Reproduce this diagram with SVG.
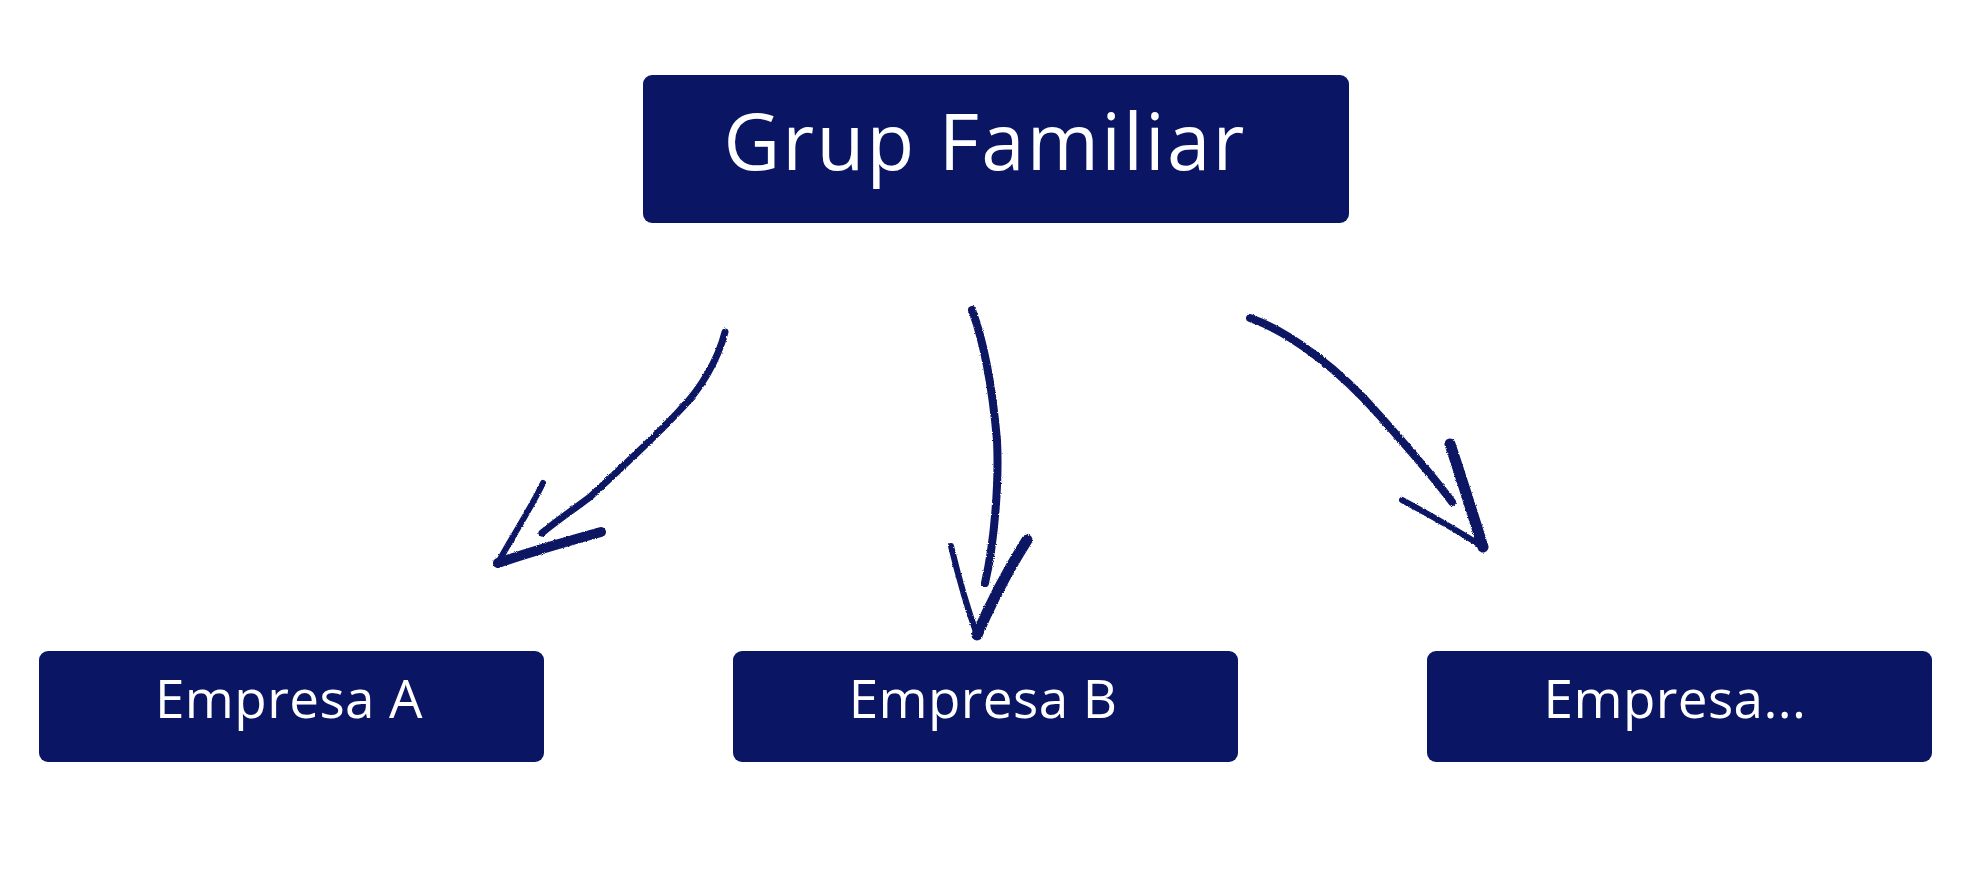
<svg xmlns="http://www.w3.org/2000/svg" width="1968" height="875" viewBox="0 0 1968 875">
  <defs>
    <style>
      .box { fill: #0a1664; }
      .lbl { fill: #ffffff; font-family: "Open Sans", "Noto Sans", "Liberation Sans", sans-serif; text-anchor: middle; }
      .big { font-size: 78px; letter-spacing: 2.2px; }
      .small { font-size: 53px; letter-spacing: 0.4px; }
      .pen { fill: none; stroke: #0a1664; stroke-linecap: round; stroke-linejoin: round; }
    </style>
    <filter id="rough" x="-10%" y="-10%" width="120%" height="120%">
      <feTurbulence type="fractalNoise" baseFrequency="0.9" numOctaves="2" seed="3" result="n"/>
      <feDisplacementMap in="SourceGraphic" in2="n" scale="2.5" xChannelSelector="R" yChannelSelector="G"/>
    </filter>
  </defs>
  <rect width="1968" height="875" fill="#ffffff"/>

  <g id="grup-familiar">
    <rect class="box" x="643" y="75" width="706" height="148" rx="9"/>
    <text class="lbl big" x="985" y="170">Grup Familiar</text>
  </g>

  <g id="empresa-a">
    <rect class="box" x="39" y="651" width="505" height="111" rx="9"/>
    <text class="lbl small" x="289" y="718">Empresa A</text>
  </g>

  <g id="empresa-b">
    <rect class="box" x="733" y="651" width="505" height="111" rx="9"/>
    <text class="lbl small" x="983" y="718">Empresa B</text>
  </g>

  <g id="empresa-c">
    <rect class="box" x="1427" y="651" width="505" height="111" rx="9"/>
    <text class="lbl small" x="1675" y="718">Empresa...</text>
  </g>

  <g id="connectors" filter="url(#rough)">
    <!-- left arrow -->
    <path class="pen" stroke-width="7" d="M725,332 C718,360 700,390 680,410 C660,432 630,460 590,497 C570,512 555,522 542,533"/>
    <path class="pen" stroke-width="6" d="M543,483 C530,510 510,540 498,563"/>
    <path class="pen" stroke-width="10" d="M498,563 C530,552 565,542 601,532"/>
    <!-- middle arrow -->
    <path class="pen" stroke-width="8" d="M972,310 C985,345 993,395 997,440 C999,480 995,540 985,583"/>
    <path class="pen" stroke-width="6" d="M951,546 C958,575 968,610 977,635"/>
    <path class="pen" stroke-width="11" d="M977,635 C990,605 1008,570 1027,540"/>
    <!-- right arrow -->
    <path class="pen" stroke-width="8" d="M1250,318 C1290,332 1340,370 1380,416 C1410,450 1435,478 1452,502"/>
    <path class="pen" stroke-width="11" d="M1450,444 C1462,480 1473,515 1483,547"/>
    <path class="pen" stroke-width="6" d="M1402,500 C1430,515 1460,532 1483,547"/>
  </g>
</svg>
